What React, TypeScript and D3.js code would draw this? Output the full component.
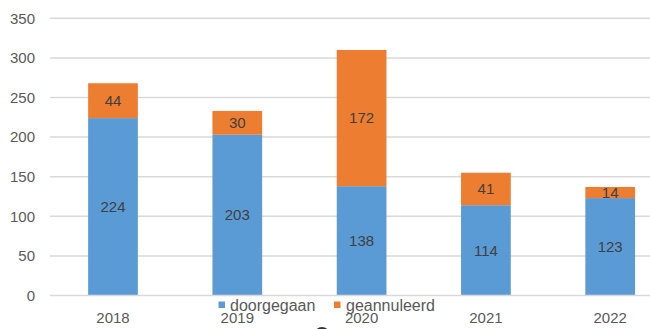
import React from "react";
import * as d3 from "d3";

const years = ["2018", "2019", "2020", "2021", "2022"];
const doorgegaan = [224, 203, 138, 114, 123];
const geannuleerd = [44, 30, 172, 41, 14];
const yTicks = [0, 50, 100, 150, 200, 250, 300, 350];
const seriesNames = ["doorgegaan", "geannuleerd"];
const colors = ["#5b9bd5", "#ed7d31"];

export default function App() {
  const W = 650, H = 329;
  const y = d3.scaleLinear().domain([0, 350]).range([295.5, 18.3]);
  const x = d3.scaleBand().domain(years).range([50.85, 672.35]).paddingInner(0.6).paddingOuter(0.3);
  const rows = years.map((yr, i) => ({ year: yr, doorgegaan: doorgegaan[i], geannuleerd: geannuleerd[i] }));
  const stacked = d3.stack<any>().keys(seriesNames)(rows);
  const font = "'Liberation Sans', Arial, sans-serif";
  return (
    <svg width={W} height={H} style={{ position: "absolute", left: 0, top: 0, background: "#fff" }} fontFamily={font}>
      <rect width={W} height={H} fill="#fff" />
      {yTicks.map((t) => (
        <g key={t}>
          {t > 0 && <line x1={50} x2={W} y1={y(t)} y2={y(t)} stroke="#d9d9d9" strokeWidth={1.5} />}
          <text x={35} y={y(t)} dy="0.35em" textAnchor="end" fontSize={15} fill="#595959">{t}</text>
        </g>
      ))}
      {stacked.map((s, si) =>
        s.map((d, i) => (
          <g key={si + "-" + i}>
            <rect x={x(years[i])} width={x.bandwidth()} y={y(d[1])} height={y(d[0]) - y(d[1])} fill={colors[si]} />
            <text x={(x(years[i]) as number) + x.bandwidth() / 2} y={(y(d[0]) + y(d[1])) / 2} dy="0.35em" textAnchor="middle" fontSize={15} fill="#404040">
              {si === 0 ? doorgegaan[i] : geannuleerd[i]}
            </text>
          </g>
        ))
      )}
      <line x1={50} x2={W} y1={y(0)} y2={y(0)} stroke="#d9d9d9" strokeWidth={1.5} />
      {years.map((yr) => (
        <text key={yr} x={(x(yr) as number) + x.bandwidth() / 2} y={318} dy="0.35em" textAnchor="middle" fontSize={15} fill="#595959">{yr}</text>
      ))}
      <g>
        <rect x={218.5} y={301.5} width={6.5} height={6.5} fill={colors[0]} />
        <text x={230} y={305} dy="0.35em" fontSize={16} fill="#595959">{seriesNames[0]}</text>
        <rect x={334} y={301.5} width={6.5} height={6.5} fill={colors[1]} />
        <text x={346} y={305} dy="0.35em" fontSize={16} fill="#595959">{seriesNames[1]}</text>
      </g>
      <circle cx={322} cy={335} r={7} fill="none" stroke="#333" strokeWidth={2} />
    </svg>
  );
}
